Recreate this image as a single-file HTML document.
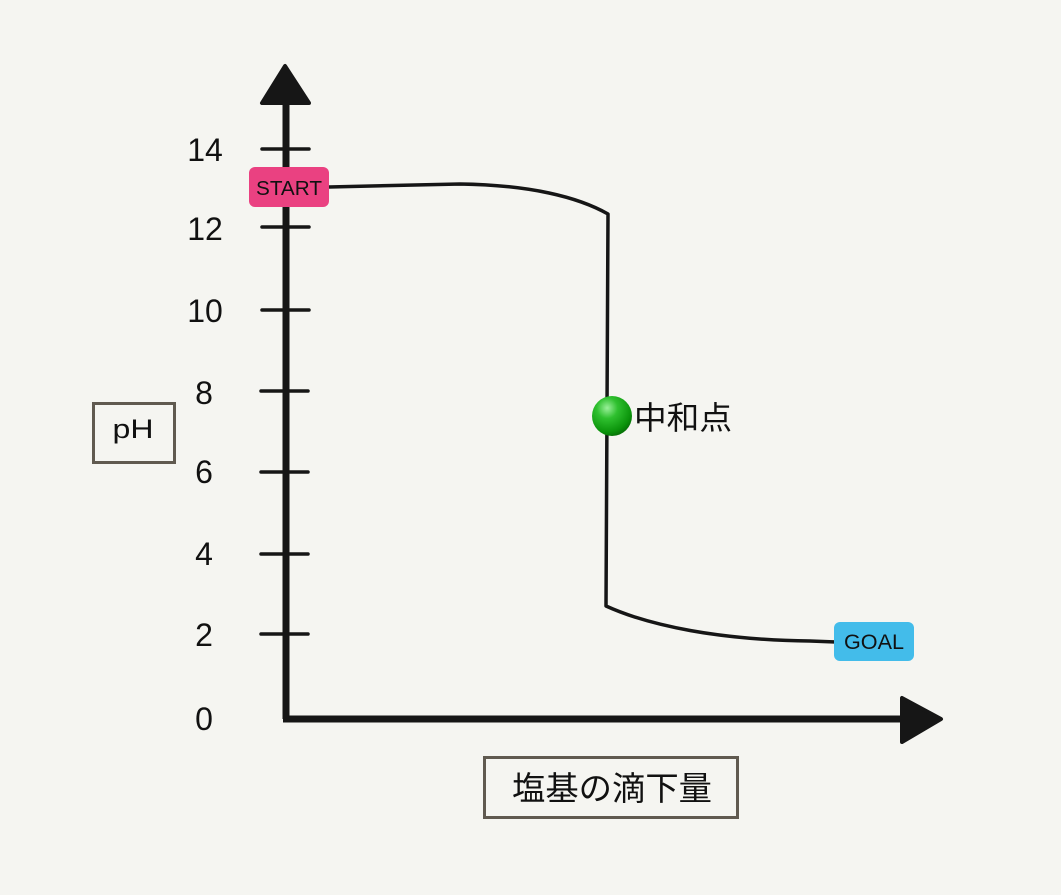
<!DOCTYPE html>
<html>
<head>
<meta charset="utf-8">
<style>
  html, body { margin: 0; padding: 0; background: #f5f5f1; }
  body { width: 1061px; height: 895px; overflow: hidden; }
  svg { display: block; }
  text { font-family: "Liberation Sans", "Noto Sans CJK JP", sans-serif; fill: #111; }
</style>
</head>
<body>
<svg width="1061" height="895" viewBox="0 0 1061 895" xmlns="http://www.w3.org/2000/svg">
  <defs>
    <radialGradient id="g" cx="0.38" cy="0.3" r="0.75">
      <stop offset="0" stop-color="#9af09a"/>
      <stop offset="0.35" stop-color="#2fc02f"/>
      <stop offset="0.8" stop-color="#0b940b"/>
      <stop offset="1" stop-color="#066a06"/>
    </radialGradient>
  </defs>
  <rect x="0" y="0" width="1061" height="895" fill="#f5f5f1"/>

  <!-- Y axis -->
  <line x1="286" y1="100" x2="286" y2="719" stroke="#161616" stroke-width="7"/>
  <polygon points="285,66 262,103 309,103" fill="#161616" stroke="#161616" stroke-width="4" stroke-linejoin="round"/>
  <!-- X axis -->
  <line x1="283" y1="719" x2="905" y2="719" stroke="#161616" stroke-width="7"/>
  <polygon points="902,698 902,742 941,719" fill="#161616" stroke="#161616" stroke-width="4" stroke-linejoin="round"/>

  <!-- ticks -->
  <g stroke="#161616" stroke-width="3.5" stroke-linecap="round">
    <line x1="262" y1="149" x2="309" y2="149"/>
    <line x1="262" y1="227" x2="309" y2="227"/>
    <line x1="262" y1="310" x2="309" y2="310"/>
    <line x1="261" y1="391" x2="308" y2="391"/>
    <line x1="261" y1="472" x2="308" y2="472"/>
    <line x1="261" y1="554" x2="308" y2="554"/>
    <line x1="261" y1="634" x2="308" y2="634"/>
  </g>

  <!-- tick labels -->
  <g font-size="32" text-anchor="middle">
    <text x="205" y="161">14</text>
    <text x="205" y="240">12</text>
    <text x="205" y="322">10</text>
    <text x="204" y="404">8</text>
    <text x="204" y="483">6</text>
    <text x="204" y="565">4</text>
    <text x="204" y="646">2</text>
    <text x="204" y="730">0</text>
  </g>

  <!-- curve -->
  <path d="M 329 187 L 460 184 C 530 185, 578 197, 608 214 L 606 606 C 650 626, 720 640, 810 641 L 836 642"
        fill="none" stroke="#161616" stroke-width="3.5" stroke-linejoin="round"/>

  <!-- START -->
  <rect x="249" y="167" width="80" height="40" rx="6" fill="#ea4181"/>
  <text x="289" y="195" font-size="20" text-anchor="middle" textLength="66" lengthAdjust="spacingAndGlyphs">START</text>

  <!-- GOAL -->
  <rect x="834" y="622" width="80" height="39" rx="6" fill="#43bcea"/>
  <text x="874" y="649" font-size="21" text-anchor="middle" textLength="60" lengthAdjust="spacingAndGlyphs">GOAL</text>

  <!-- neutral point -->
  <circle cx="612" cy="416" r="20" fill="url(#g)"/>
  <text x="634" y="429" font-size="32" textLength="98" lengthAdjust="spacingAndGlyphs">中和点</text>

  <!-- pH label box -->
  <rect x="93.5" y="403.5" width="81" height="59" fill="none" stroke="#605a50" stroke-width="3"/>
  <text x="133" y="438" font-size="27" text-anchor="middle" textLength="41" lengthAdjust="spacingAndGlyphs">pH</text>

  <!-- x label box -->
  <rect x="484.5" y="757.5" width="253" height="60" fill="none" stroke="#605a50" stroke-width="3"/>
  <text x="612" y="800" font-size="33" text-anchor="middle" textLength="200" lengthAdjust="spacingAndGlyphs">塩基の滴下量</text>
</svg>
</body>
</html>
